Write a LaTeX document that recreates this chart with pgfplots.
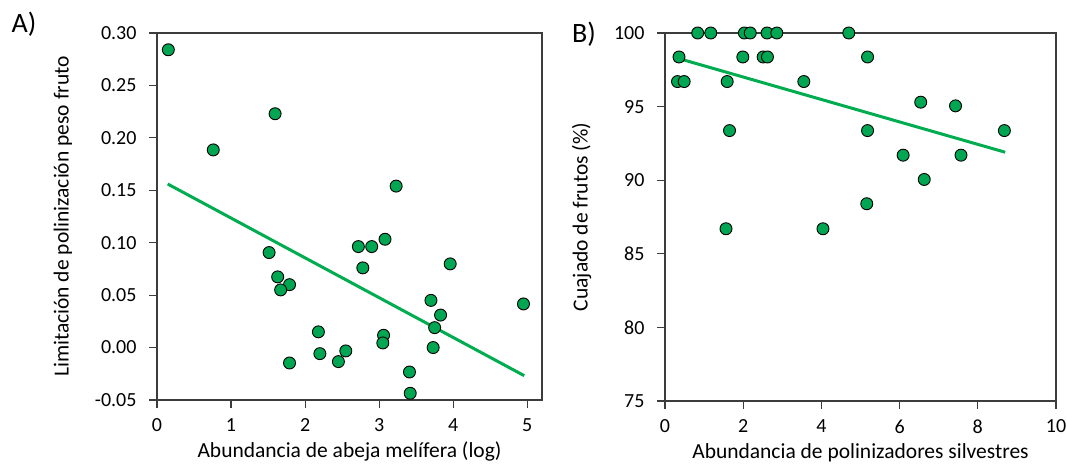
\documentclass[border=0pt]{standalone}
\usepackage{pgfplots}
\pgfplotsset{compat=1.18}
\usepackage{fontspec}
\setmainfont{Carlito}
\definecolor{ptgreen}{RGB}{0,166,81}
\definecolor{lngreen}{RGB}{0,172,80}
\definecolor{axgray}{RGB}{60,60,60}
\pgfplotsset{
  myaxis/.style={
    scale only axis,
    axis line style={axgray, line width=1.1pt},
    tick style={axgray, line width=1.1pt},
    tick align=outside,
    major tick length=8pt,
    xtick pos=bottom, ytick pos=left,
    clip=false,
    /pgf/number format/assume math mode=true,
    tick label style={font=\fontsize{20}{24}\selectfont},
    label style={font=\fontsize{21.5}{26}\selectfont},
    yticklabel style={xshift=-9pt},
    xticklabel style={yshift=-7pt},
  },
  pts/.style={only marks, mark=*, mark size=6pt, mark options={fill=ptgreen, draw=black, line width=0.9pt}},
  reg/.style={lngreen, line width=3pt, no marks},
}
\begin{document}
\begin{tikzpicture}
\useasboundingbox (0pt,0pt) rectangle (1067pt,470pt);
\begin{axis}[myaxis,
  at={(157pt,70pt)}, anchor=south west,
  width=385pt, height=367pt,
  xmin=0, xmax=5.2, ymin=-0.05, ymax=0.30,
  xtick={0,1,2,3,4,5},
  ytick={-0.05,0,0.05,0.10,0.15,0.20,0.25,0.30},
  yticklabels={-0.05,0.00,0.05,0.10,0.15,0.20,0.25,0.30},
  xlabel={Abundancia de abeja melífera (log)},
  ylabel={Limitación de polinización peso fruto},
  xlabel style={yshift=-3pt},
  ylabel style={yshift=16pt},
]
\addplot[reg] coordinates {(0.144,0.156) (4.96,-0.0268)};
\addplot[pts] table {
x y
0.153 0.284
0.76 0.1885
1.595 0.223
3.23 0.154
1.514 0.0906
1.63 0.0674
1.79 0.060
1.67 0.055
2.72 0.0963
2.90 0.0963
3.08 0.1033
2.78 0.076
3.96 0.0798
3.70 0.045
4.95 0.0416
3.83 0.031
3.75 0.019
3.73 0.000
2.18 0.015
3.06 0.0117
3.05 0.0044
2.20 -0.0058
2.55 -0.0032
2.45 -0.0134
1.79 -0.0147
3.41 -0.0233
3.42 -0.0436
};
\end{axis}
\begin{axis}[myaxis,
  at={(665pt,69pt)}, anchor=south west,
  width=391pt, height=368pt,
  xmin=0, xmax=10, ymin=75, ymax=100,
  xtick={0,2,4,6,8,10},
  ytick={75,80,85,90,95,100},
  xlabel={Abundancia de polinizadores silvestres},
  ylabel={Cuajado de frutos (\%)},
  xlabel style={yshift=-3pt},
  ylabel style={yshift=16pt},
]
\addplot[reg] coordinates {(0.358,98.26) (8.70,91.9)};
\addplot[pts] table {
x y
0.836 100
1.17 100
2.03 100
2.18 100
2.61 100
2.86 100
4.70 100
0.358 98.37
1.99 98.37
2.51 98.37
2.62 98.37
5.18 98.37
0.32 96.7
0.49 96.7
1.59 96.7
3.55 96.7
6.54 95.3
7.43 95.05
1.65 93.37
5.18 93.37
8.68 93.37
6.09 91.7
7.57 91.7
6.63 90.05
5.16 88.4
1.56 86.7
4.04 86.7
};
\end{axis}
\node[font=\fontsize{28}{32}\selectfont] at (24pt,446pt) {A)};
\node[font=\fontsize{28}{32}\selectfont] at (584pt,436pt) {B)};
\end{tikzpicture}
\end{document}
